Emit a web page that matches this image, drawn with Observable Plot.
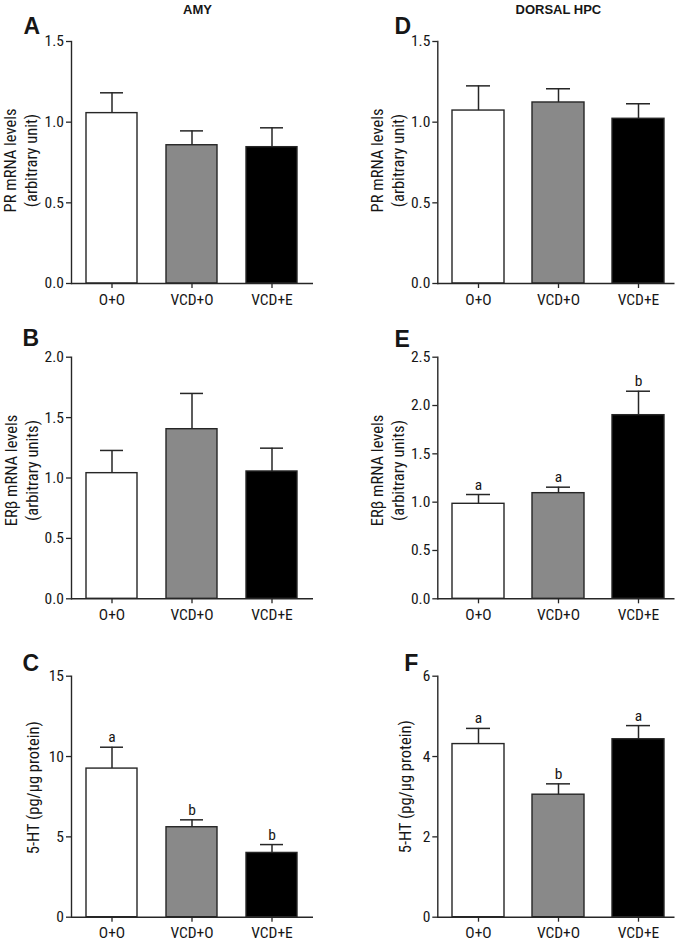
<!DOCTYPE html>
<html><head><meta charset="utf-8">
<script src="https://cdn.jsdelivr.net/npm/d3@7"></script>
<script src="https://cdn.jsdelivr.net/npm/@observablehq/plot@0.6"></script>
<style>
body{margin:0;background:#fff;}
#root{position:relative;width:682px;height:941px;overflow:hidden;}
#root svg{position:absolute;}
</style></head><body><div id="root"></div>
<script>
const groups = ["O+O", "VCD+O", "VCD+E"];
const fills = ["#ffffff", "#898989", "#000000"];

const amyPR = [1.056, 0.857, 0.845];
const amyPRErr = [1.182, 0.946, 0.965];
const amyERb = [1.04, 1.404, 1.054];
const amyERbErr = [1.228, 1.70, 1.247];
const amy5HT = [9.25, 5.60, 4.00];
const amy5HTErr = [10.58, 6.06, 4.52];
const amy5HTLetters = ["a", "b", "b"];

const hpcPR = [1.072, 1.122, 1.021];
const hpcPRErr = [1.225, 1.207, 1.114];
const hpcERb = [0.983, 1.093, 1.90];
const hpcERbErr = [1.079, 1.155, 2.148];
const hpcERbLetters = ["a", "a", "b"];
const hpc5HT = [4.31, 3.05, 4.43];
const hpc5HTErr = [4.70, 3.32, 4.77];
const hpc5HTLetters = ["a", "b", "a"];

const ticksPR = [0, 0.5, 1.0, 1.5];
const ticksERbAmy = [0, 0.5, 1.0, 1.5, 2.0];
const ticksERbHpc = [0, 0.5, 1.0, 1.5, 2.0, 2.5];
const ticksAmy5HT = [0, 5, 10, 15];
const ticksHpc5HT = [0, 2, 4, 6];

const NARROW = '"Roboto Condensed", "DejaVu Sans Condensed", "Liberation Sans", sans-serif';
const BOLD = '"Liberation Sans", Arial, sans-serif';
const INK = "#262626";

function panel(c) {
  const data = groups.map((g, i) => ({group: g, mean: c.mean[i], err: c.err[i], letter: c.letters ? c.letters[i] : null}));
  const marks = [
    Plot.barY(data, {x: "group", y: "mean", fill: "group", stroke: INK, strokeWidth: 1.4}),
    Plot.ruleX(data, {x: "group", y1: "mean", y2: "err", stroke: INK, strokeWidth: 1.5}),
    Plot.tickY(data, {x: "group", y: "err", stroke: INK, strokeWidth: 1.5, insetLeft: 14, insetRight: 14}),
    Plot.frame({anchor: "left", stroke: INK, strokeWidth: 1.4}),
    Plot.ruleY([0], {stroke: INK, strokeWidth: 1.4}),
    Plot.axisY(c.ticks, {tickFormat: c.fmt, tickSize: 5, tickPadding: 2.5, label: null, fontSize: 15.5, stroke: INK, strokeWidth: 1.3}),
    Plot.axisX({tickSize: 5, tickPadding: 5, label: null, fontSize: 15.5, stroke: INK, strokeWidth: 1.3}),
    Plot.text([c.ylabel], {text: d => d, frameAnchor: "left", rotate: -90, textAnchor: "middle", lineAnchor: "middle", dx: c.ldx, dy: c.ldy, fontSize: 16.5, lineHeight: 1.27}),
    Plot.text([c.tag], {text: d => d, frameAnchor: "top-left", textAnchor: "start", lineAnchor: "bottom", dx: c.tdx, dy: c.tdy, fontSize: 23, fontWeight: "bold", fontFamily: BOLD})
  ];
  if (c.letters) marks.push(Plot.text(data, {x: "group", y: "err", text: "letter", lineAnchor: "bottom", dy: -5, fontSize: 15.5}));
  if (c.title) marks.push(Plot.text([c.title], {text: d => d, frameAnchor: "top", lineAnchor: "bottom", dx: c.hdx, dy: c.hdy, fontSize: 13, fontWeight: "bold", fontFamily: BOLD}));
  const svg = Plot.plot({
    width: 341, height: c.height,
    marginLeft: c.ml, marginRight: c.mr, marginTop: c.mt, marginBottom: c.mb,
    x: {domain: groups, paddingInner: c.pi, paddingOuter: c.po, align: c.align, axis: null},
    y: {domain: c.domain, axis: null},
    color: {domain: groups, range: fills},
    style: {fontFamily: NARROW, fontSize: "15px", color: "#161616", background: "transparent", overflow: "visible"},
    marks
  });
  svg.style.left = c.left + "px";
  svg.style.top = c.top + "px";
  document.getElementById("root").appendChild(svg);
}

const L = {left: 0, ml: 71, mr: 28, pi: 0.358, po: 0.173, align: 0.5};
const R = {left: 341, ml: 96.3, mr: 7.5, pi: 0.348, po: 0.146, align: 0.6};
const row1 = {top: 0, height: 310, mt: 41, mb: 27};
const row2 = {top: 310, height: 318, mt: 46.7, mb: 29.7};
const row3 = {top: 628, height: 313, mt: 47.7, mb: 24.3};
const f1 = d3.format(".1f");
const f0 = d3.format("d");

panel({...L, ...row1, mean: amyPR, err: amyPRErr, ticks: ticksPR, domain: [0, 1.5], fmt: f1,
  ylabel: "PR mRNA levels\n(arbitrary unit)", ldx: -52, ldy: -2, tag: "A", tdx: -48, tdy: -8,
  title: "AMY", hdx: 5, hdy: -28});
panel({...L, ...row2, mean: amyERb, err: amyERbErr, ticks: ticksERbAmy, domain: [0, 2.0], fmt: f1,
  ylabel: "ERβ mRNA levels\n(arbitrary units)", ldx: -51, ldy: -7.5, tag: "B", tdx: -49, tdy: -11.7});
panel({...L, ...row3, mean: amy5HT, err: amy5HTErr, ticks: ticksAmy5HT, domain: [0, 15], fmt: f0,
  ylabel: "5-HT (pg/µg protein)", ldx: -39, ldy: -9, tag: "C", tdx: -49, tdy: -5.7, letters: amy5HTLetters});
panel({...R, ...row1, mean: hpcPR, err: hpcPRErr, ticks: ticksPR, domain: [0, 1.5], fmt: f1,
  ylabel: "PR mRNA levels\n(arbitrary unit)", ldx: -51, ldy: -2, tag: "D", tdx: -43.3, tdy: -8,
  title: "DORSAL HPC", hdx: 2, hdy: -28});
panel({...R, ...row2, mean: hpcERb, err: hpcERbErr, ticks: ticksERbHpc, domain: [0, 2.5], fmt: f1,
  ylabel: "ERβ mRNA levels\n(arbitrary units)", ldx: -51, ldy: -7.5, tag: "E", tdx: -43.3, tdy: -10, letters: hpcERbLetters});
panel({...R, ...row3, mean: hpc5HT, err: hpc5HTErr, ticks: ticksHpc5HT, domain: [0, 6], fmt: f0,
  ylabel: "5-HT (pg/µg protein)", ldx: -33.5, ldy: -10, tag: "F", tdx: -33.5, tdy: -5.7, letters: hpc5HTLetters});
</script></body></html>
